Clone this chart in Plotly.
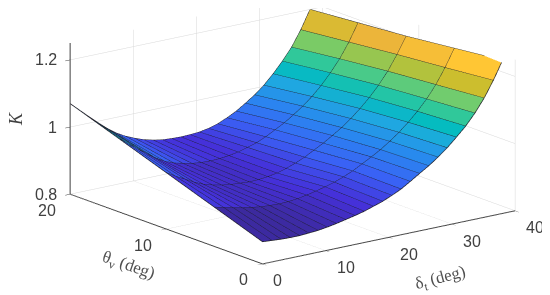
import plotly.graph_objects as go

delta_deg = [0, 1.46, 2.92, 4.38, 5.85, 7.31, 8.77, 10.23, 11.69, 13.15, 14.62, 16.08, 17.54, 19,
             20.46, 21.92, 23.38, 24.85, 26.31, 27.77, 29.23, 30.69, 32.15, 33.62, 35.08, 36.54, 38]
theta_deg = [0, 5, 10, 15, 20]
K_theta0 = [.866, .864, .862, .861, .861, .863, .865, .869, .874, .880, .886, .893, .902, .911,
            .923, .936, .953, .971, .988, 1.008, 1.030, 1.056, 1.083, 1.116, 1.155, 1.202, 1.256]
K_theta5 = [.917, .910, .904, .898, .893, .889, .887, .886, .887, .890, .895, .901, .908, .916,
            .926, .938, .953, .968, .984, 1.003, 1.024, 1.048, 1.075, 1.106, 1.143, 1.188, 1.240]
K_theta10 = [.968, .951, .937, .922, .910, .902, .896, .892, .890, .888, .889, .892, .897, .905,
             .915, .927, .942, .957, .974, .992, 1.013, 1.037, 1.064, 1.095, 1.131, 1.175, 1.224]
K_theta15 = [1.019, .997, .977, .957, .937, .921, .910, .903, .897, .894, .893, .894, .897, .902,
             .910, .918, .930, .945, .960, .978, .998, 1.021, 1.048, 1.080, 1.116, 1.160, 1.212]
K_theta20 = [1.070, 1.045, 1.020, .996, .973, .953, .938, .926, .916, .909, .904, .902, .901, .902,
             .904, .909, .917, .929, .943, .961, .980, 1.003, 1.031, 1.063, 1.099, 1.145, 1.200]
K_columns = [K_theta0, K_theta5, K_theta10, K_theta15, K_theta20]

x_ticks = [0, 10, 20, 30, 40]
y_ticks = [0, 10, 20]
z_ticks = [0.8, 1.0, 1.2]
z_labels = ["0.8", "1", "1.2"]

cmin, cmax = 0.86, 1.256
stops = [(.86, "#3c2a9e"), (.90, "#4530d8"), (.95, "#3a60f5"), (1.0, "#2a85f0"), (1.05, "#1fa8e0"),
         (1.083, "#05bcc0"), (1.116, "#30c89a"), (1.155, "#70cc6e"), (1.2, "#c8bf2c"),
         (1.225, "#ecb53a"), (1.256, "#ffc634")]
colorscale = [[(v - cmin) / (cmax - cmin), c] for v, c in stops]

nd, nt = len(delta_deg), len(theta_deg)
vx, vy, vz = [], [], []
for j in range(nt):
    for i in range(nd):
        vx.append(delta_deg[i]); vy.append(theta_deg[j]); vz.append(K_columns[j][i])

def vid(i, j):
    return j * nd + i

ti, tj, tk, cell = [], [], [], []
for j in range(nt - 1):
    for i in range(nd - 1):
        a, b, c, d = vid(i, j), vid(i + 1, j), vid(i + 1, j + 1), vid(i, j + 1)
        val = K_columns[j][i + 1]
        if j == nt - 2:
            val = max(val, K_columns[j + 1][i])
        ti += [a, a]; tj += [b, c]; tk += [c, d]; cell += [val, val]

lx, ly, lz = [], [], []
for i in range(nd):
    for j in range(nt):
        lx.append(delta_deg[i]); ly.append(theta_deg[j]); lz.append(K_columns[j][i])
    lx.append(None); ly.append(None); lz.append(None)
for j in range(nt):
    for i in range(nd):
        lx.append(delta_deg[i]); ly.append(theta_deg[j]); lz.append(K_columns[j][i])
    lx.append(None); ly.append(None); lz.append(None)

fig = go.Figure()
fig.add_trace(go.Mesh3d(x=vx, y=vy, z=vz, i=ti, j=tj, k=tk, intensity=cell, intensitymode="cell",
                        colorscale=colorscale, cmin=cmin, cmax=cmax, showscale=False, flatshading=True,
                        lighting=dict(ambient=1, diffuse=0, specular=0, fresnel=0), hoverinfo="skip"))
fig.add_trace(go.Scatter3d(x=lx, y=ly, z=lz, mode="lines", line=dict(color="#1e1e28", width=1.5),
                           showlegend=False, hoverinfo="skip"))

tickfont = dict(family="Liberation Sans, Arial, sans-serif", size=16, color="#404040")
def axis(rng, vals):
    return dict(range=rng, autorange=False, tickvals=vals, title=dict(text=""), showbackground=False,
                showgrid=True, gridcolor="#d8d8d8", gridwidth=1, zeroline=False, showline=True,
                linecolor="#404040", linewidth=2, ticks="outside", ticklen=6, tickcolor="#404040",
                tickwidth=1, showticklabels=False, showspikes=False)

def tick_note(x, y, z, text, dx, dy, anchor="center"):
    return dict(x=x, y=y, z=z, text=text, showarrow=False, xshift=dx, yshift=dy, font=tickfont, xanchor=anchor)

notes = [tick_note(v, 0, 0.8, str(v), 15 if v == 0 else 20, -17) for v in x_ticks]
notes += [tick_note(0, v, 0.8, str(v), -19 if v == 0 else -23, -16) for v in y_ticks]
notes += [tick_note(0, 20, v, t, -11, 0, "right") for v, t in zip(z_ticks, z_labels)]

scale = 2.153
fig.update_layout(
    width=550, height=295, margin=dict(l=0, r=0, t=0, b=0), paper_bgcolor="white", showlegend=False,
    scene=dict(
        domain=dict(x=[0, 1], y=[0, 1]),
        xaxis=axis([0, 40], x_ticks), yaxis=axis([0, 20], y_ticks), zaxis=axis([0.8, 1.25], z_ticks),
        aspectmode="manual", aspectratio=dict(x=scale, y=scale, z=0.495 * scale),
        camera=dict(projection=dict(type="orthographic"), eye=dict(x=-2.934, y=-3.743, z=1.164),
                    up=dict(x=0, y=0, z=1), center=dict(x=-0.0843, y=-0.003, z=-0.186)),
        annotations=notes,
    ),
    annotations=[
        dict(text="<i>K</i>", x=17 / 550, y=1 - 118 / 295, xref="paper", yref="paper", showarrow=False,
             xshift=-21, yshift=7, textangle=-90,
             font=dict(family="Liberation Serif, serif", size=18, color="#404040")),
        dict(text="θ<sub>v</sub> (deg)", x=128 / 550, y=1 - 263 / 295, xref="paper", yref="paper", showarrow=False,
             xshift=-40, yshift=-17, textangle=19,
             font=dict(family="Liberation Serif, serif", size=17, color="#505050")),
        dict(text="δ<sub>t</sub> (deg)", x=440 / 550, y=1 - 277 / 295, xref="paper", yref="paper", showarrow=False,
             xshift=22, yshift=-14, textangle=-15,
             font=dict(family="Liberation Serif, serif", size=17, color="#505050")),
    ],
)
fig.write_html("out.html", config=dict(displayModeBar=False))
